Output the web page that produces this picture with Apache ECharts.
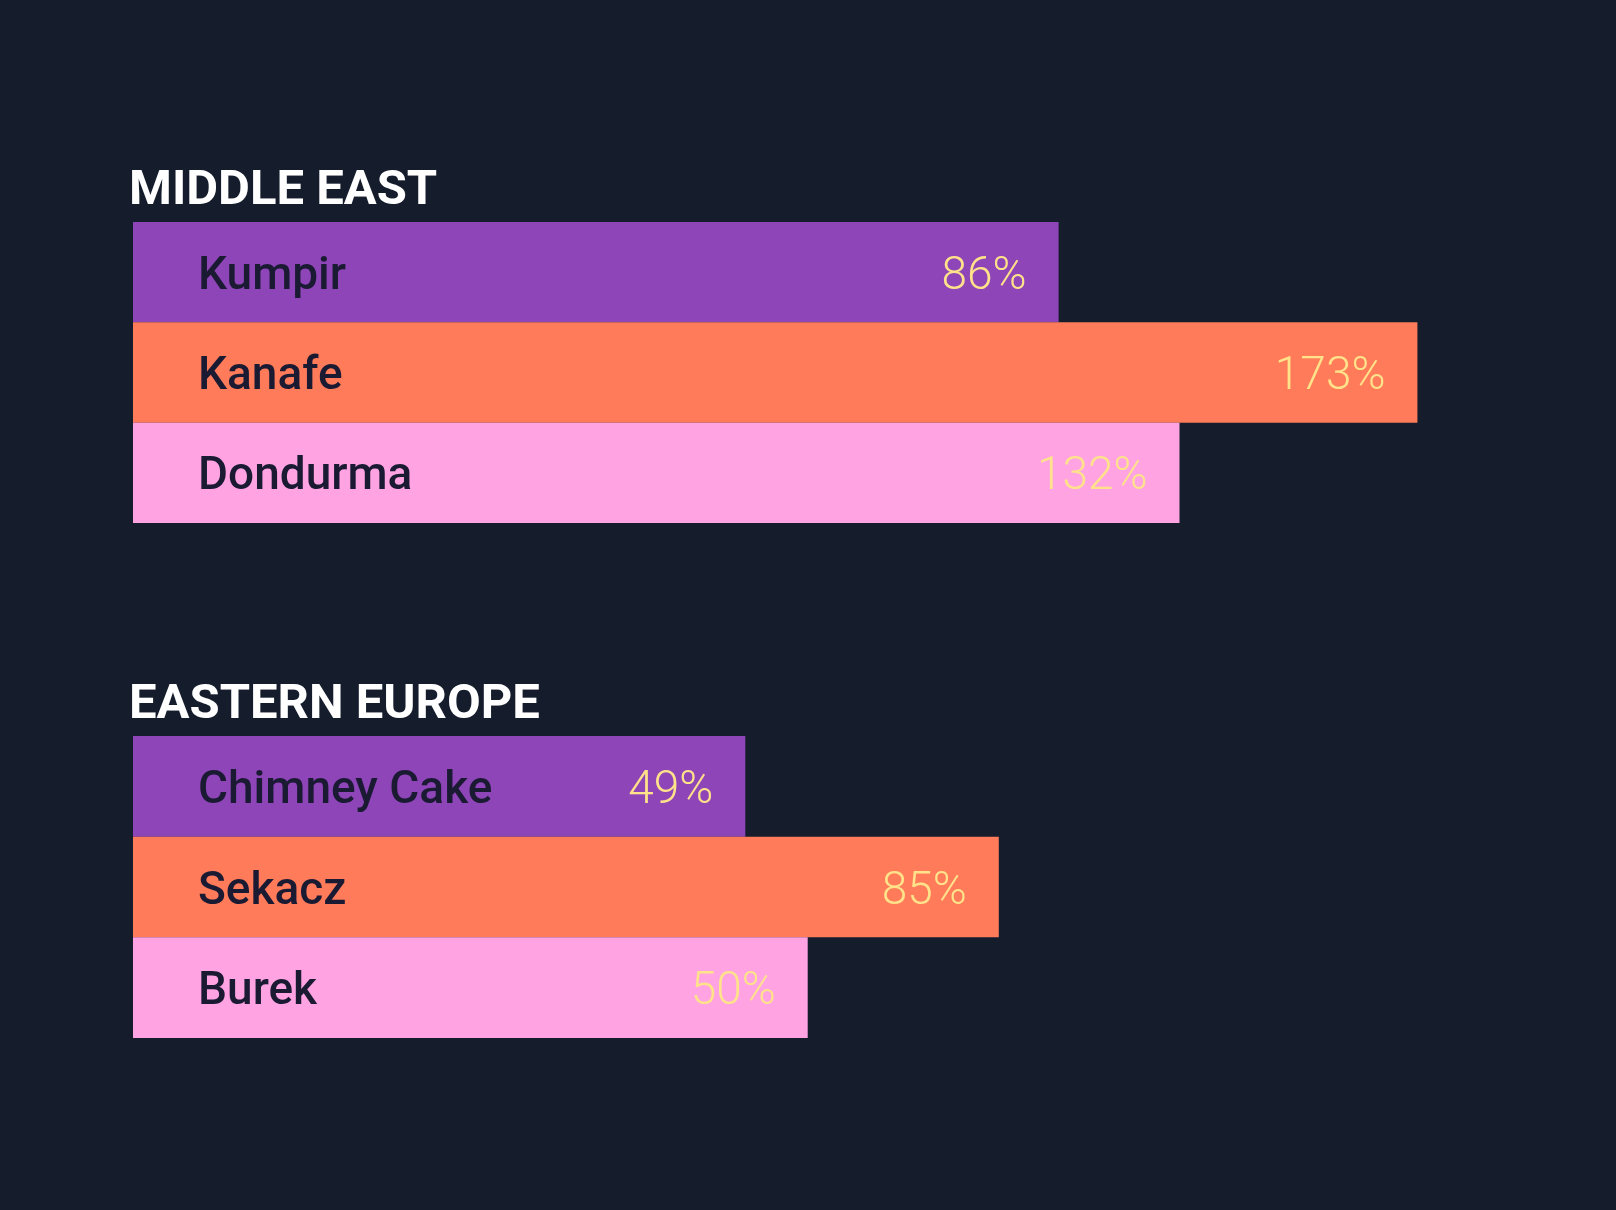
<!DOCTYPE html>
<html>
<head>
<meta charset="utf-8">
<style>
  html, body { margin: 0; padding: 0; background: #151D2C; }
  #chart { width: 1616px; height: 1210px; }
</style>
<script src="https://cdn.jsdelivr.net/npm/echarts@6/dist/echarts.min.js"></script>
</head>
<body>
<div id="chart"></div>
<script>
// ---- data ----
const groupTitles = ['MIDDLE EAST', 'EASTERN EUROPE'];
const middleEastItems = ['Kumpir', 'Kanafe', 'Dondurma'];
const middleEastScore = [71.2, 98.8, 80.5];      // bar length
const middleEastGrowth = [86, 173, 132];        // printed percentage
const easternEuropeItems = ['Chimney Cake', 'Sekacz', 'Burek'];
const easternEuropeScore = [47.1, 66.6, 51.9];
const easternEuropeGrowth = [49, 85, 50];
const axisMax = 100;

// ---- styles ----
const palette = ['#8E45B8', '#FF7B5A', '#FFA3E3'];
const bg = '#151D2C';
const nameColor = '#1B1A33';
const valueColor = '#FFE28A';

const chart = echarts.init(document.getElementById('chart'));

const grids = [
  { left: 133, top: 222, width: 1300, height: 301 },
  { left: 133, top: 736, width: 1300, height: 302 }
];

function buildSeries(gi, items, score, growth) {
  return [
    {
      type: 'bar', xAxisIndex: gi, yAxisIndex: gi,
      data: score, barCategoryGap: '0%', barGap: '-100%',
      itemStyle: { color: p => palette[p.dataIndex % palette.length] },
      label: {
        show: true, position: 'insideRight', distance: 32, offset: [0, 5],
        formatter: p => growth[p.dataIndex] + '%',
        color: valueColor, fontFamily: 'Roboto', fontWeight: 300, fontSize: 46
      },
      silent: true, animation: false
    },
    {
      type: 'bar', xAxisIndex: gi, yAxisIndex: gi,
      data: score, barCategoryGap: '0%', barGap: '-100%',
      itemStyle: { color: 'rgba(0,0,0,0)' },
      label: {
        show: true, position: 'insideLeft', distance: 65, offset: [0, 5],
        formatter: p => items[p.dataIndex],
        color: nameColor, fontFamily: 'Roboto', fontWeight: 500, fontSize: 46
      },
      silent: true, animation: false
    }
  ];
}

const option = {
  backgroundColor: bg,
  animation: false,
  grid: grids,
  xAxis: grids.map((g, i) => ({
    type: 'value', gridIndex: i, min: 0, max: axisMax,
    show: false
  })),
  yAxis: [
    { type: 'category', gridIndex: 0, data: middleEastItems, inverse: true, show: false },
    { type: 'category', gridIndex: 1, data: easternEuropeItems, inverse: true, show: false }
  ],
  graphic: [
    { type: 'text', left: 129, top: 167, style: { text: groupTitles[0], fill: '#FFFFFF', font: 'bold 49px Roboto' } },
    { type: 'text', left: 129, top: 681, style: { text: groupTitles[1], fill: '#FFFFFF', font: 'bold 49px Roboto' } }
  ],
  series: [
    ...buildSeries(0, middleEastItems, middleEastScore, middleEastGrowth),
    ...buildSeries(1, easternEuropeItems, easternEuropeScore, easternEuropeGrowth)
  ]
};
chart.setOption(option);
</script>
</body>
</html>
